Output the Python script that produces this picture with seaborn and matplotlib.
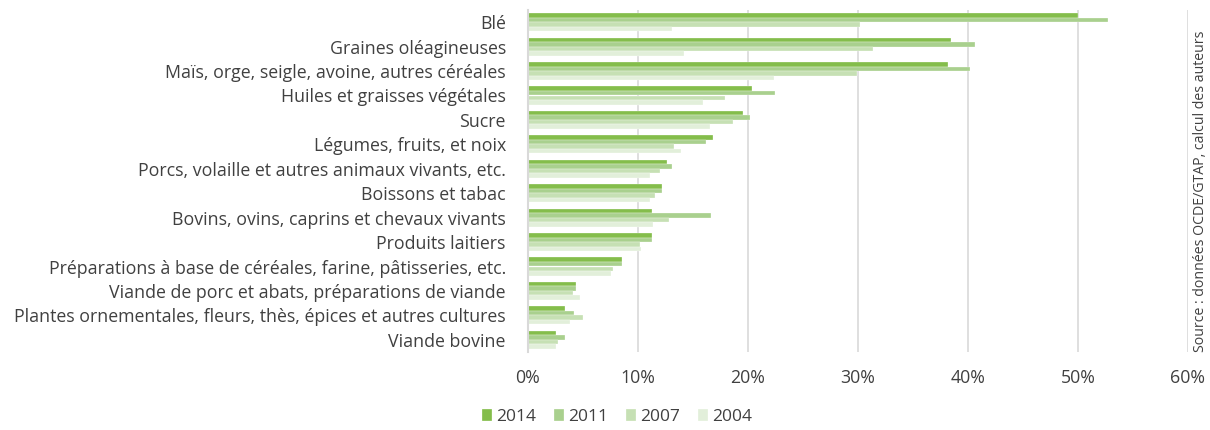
import matplotlib
matplotlib.use("Agg")
import matplotlib.pyplot as plt
import pandas as pd
import seaborn as sns
from matplotlib.ticker import PercentFormatter

CATEGORIES = [
    "Blé",
    "Graines oléagineuses",
    "Maïs, orge, seigle, avoine, autres céréales",
    "Huiles et graisses végétales",
    "Sucre",
    "Légumes, fruits, et noix",
    "Porcs, volaille et autres animaux vivants, etc.",
    "Boissons et tabac",
    "Bovins, ovins, caprins et chevaux vivants",
    "Produits laitiers",
    "Préparations à base de céréales, farine, pâtisseries, etc.",
    "Viande de porc et abats, préparations de viande",
    "Plantes ornementales, fleurs, thès, épices et autres cultures",
    "Viande bovine",
]
YEARS = ["2014", "2011", "2007", "2004"]
V2014 = [50.0, 38.5, 38.2, 20.4, 19.5, 16.8, 12.6, 12.2, 11.3, 11.3, 8.5, 4.4, 3.4, 2.5]
V2011 = [52.7, 40.6, 40.2, 22.5, 20.2, 16.2, 13.1, 12.2, 16.6, 11.3, 8.5, 4.4, 4.2, 3.4]
V2007 = [30.2, 31.4, 29.9, 17.9, 18.6, 13.3, 12.0, 11.5, 12.8, 10.2, 7.7, 4.1, 5.0, 2.7]
V2004 = [13.1, 14.2, 22.4, 15.9, 16.5, 13.9, 11.1, 11.1, 11.4, 10.3, 7.5, 4.7, 3.8, 2.5]
COLORS = ["#84bd4b", "#a9d08e", "#c6e0b4", "#e2efda"]
SOURCE = "Source : données OCDE/GTAP, calcul des auteurs"

rows = []
for year, values in zip(YEARS, [V2014, V2011, V2007, V2004]):
    for cat, v in zip(CATEGORIES, values):
        rows.append({"categorie": cat, "annee": year, "part": v})
df = pd.DataFrame(rows)

sns.set_theme(style="white")
plt.rcParams["font.family"] = ["Open Sans", "DejaVu Sans"]
TXT = "#404040"

fig = plt.figure(figsize=(12.1, 4.3), dpi=100)
ax = fig.add_axes([528 / 1210, 1 - 352 / 430, 660 / 1210, 342 / 430])

sns.barplot(
    data=df, y="categorie", x="part", hue="annee", order=CATEGORIES,
    hue_order=YEARS, palette=COLORS, saturation=1, width=0.74, orient="h",
    edgecolor="white", linewidth=0.2, ax=ax, legend=True,
)

ax.set_xlim(0, 60)
ax.set_xticks(range(0, 61, 10))
ax.xaxis.set_major_formatter(PercentFormatter(decimals=0))
ax.grid(axis="x", color="#d9d9d9", linewidth=1.2)
ax.set_axisbelow(True)
for side in ["top", "right", "bottom"]:
    ax.spines[side].set_visible(False)
ax.spines["left"].set_color("#d9d9d9")
ax.spines["left"].set_linewidth(1.5)
ax.set_xlabel("")
ax.set_ylabel("")
ax.tick_params(axis="both", length=0, labelsize=12.8, labelcolor=TXT)
ax.tick_params(axis="x", pad=12)
ax.tick_params(axis="y", pad=16)

handles, labels = ax.get_legend_handles_labels()
ax.get_legend().remove()
fig.legend(
    handles, labels, loc="lower center", bbox_to_anchor=(0.51, -0.025), ncol=4,
    frameon=False, fontsize=12.5, handlelength=0.6, handleheight=0.6,
    handletextpad=0.25, columnspacing=1.0, labelcolor=TXT,
)

fig.text(1201 / 1210, 1 - 352 / 430, SOURCE, rotation=90, ha="center", va="bottom",
         fontsize=10.2, color=TXT)

fig.savefig("out.png", dpi=100)
